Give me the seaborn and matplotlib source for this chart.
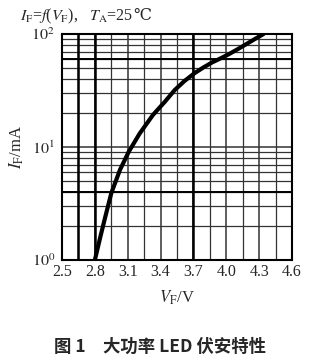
import matplotlib
matplotlib.use("Agg")
import matplotlib.pyplot as plt
import seaborn as sns
import pandas as pd
import numpy as np
from matplotlib.ticker import FixedLocator, LogLocator, NullFormatter, FixedFormatter

# Data
vf = [2.80, 2.85, 2.89, 2.95, 3.03, 3.11, 3.21, 3.33, 3.44, 3.53, 3.62, 3.71, 3.79, 3.87, 3.95, 4.02, 4.10, 4.17, 4.25, 4.34]
if_ma = [1.0, 1.6, 2.3, 3.9, 6.3, 9.1, 13.2, 19.2, 25.2, 32.0, 38.5, 45.0, 50.5, 56.0, 61.0, 66.0, 73.0, 80.0, 89.0, 100.0]
x_ticks = [2.5, 2.8, 3.1, 3.4, 3.7, 4.0, 4.3, 4.6]
x_tick_labels = ["2.5", "2.8", "3.1", "3.4", "3.7", "4.0", "4.3", "4.6"]
y_ticks = [1, 10, 100]
y_tick_labels = [r"$10^0$", r"$10^1$", r"$10^2$"]
x_grid = [2.65, 2.95, 3.25, 3.55, 3.85, 4.15, 4.45]
thick_x = [2.65, 2.8, 3.7]
thick_y = [4, 60]

df = pd.DataFrame({"VF": vf, "IF": if_ma})

sns.set_style("white")
plt.rcParams["font.family"] = ["Liberation Serif", "DejaVu Serif"]
plt.rcParams["mathtext.fontset"] = "stix"

fig = plt.figure(figsize=(3.14, 3.62), dpi=100)
ax = fig.add_axes([62/314, 1-260/362, 230/314, 226/362])

ax.set_yscale("log")
ax.set_xlim(2.5, 4.6)
ax.set_ylim(1, 100)

# grid
ax.xaxis.set_major_locator(FixedLocator(x_ticks))
ax.xaxis.set_minor_locator(FixedLocator(x_grid))
ax.yaxis.set_major_locator(FixedLocator(y_ticks))
ax.yaxis.set_minor_locator(LogLocator(base=10, subs=np.arange(2, 10)))
ax.yaxis.set_minor_formatter(NullFormatter())
ax.grid(which="major", color="#333333", lw=1.1)
ax.grid(which="minor", color="#333333", lw=0.9)
for xv in thick_x:
    ax.axvline(xv, color="black", lw=1.8, zorder=1)
for yv in thick_y:
    ax.axhline(yv, color="black", lw=1.4, zorder=1)
ax.tick_params(which="both", length=0, labelsize=11.5)
ax.tick_params(axis="x", pad=3)
ax.tick_params(axis="y", pad=5)

ax.set_xticklabels(x_tick_labels)
ax.yaxis.set_major_formatter(FixedFormatter(y_tick_labels))

sns.lineplot(data=df, x="VF", y="IF", ax=ax, color="black", lw=3.0, zorder=5)

for s in ax.spines.values():
    s.set_color("black")
    s.set_linewidth(1.5)

ax.set_xlabel(r"$V_{\mathrm{F}}$/V", fontsize=12, labelpad=6)
ax.set_ylabel(r"$I_{\mathrm{F}}$/mA", fontsize=12, labelpad=4)

t1 = fig.text(20/314, 1-16/362, r"$I_{\mathrm{F}}$=$f$($V_{\mathrm{F}}$),   $T_{\mathrm{A}}$=25",
              fontsize=11.5, ha="left", va="center")
fig.canvas.draw()
ax.annotate("℃", xy=(1, 0.5), xycoords=t1, ha="left", va="center",
            fontsize=11.5, family=["DejaVu Serif", "Noto Sans CJK SC"], annotation_clip=False)
fig.text(160/314, 1-347/362, "图 1　大功率 LED 伏安特性",
         fontsize=12.5, ha="center", va="center", fontweight="bold",
         family=["Noto Sans CJK SC", "DejaVu Sans"])

fig.savefig("out.png", dpi=100)
